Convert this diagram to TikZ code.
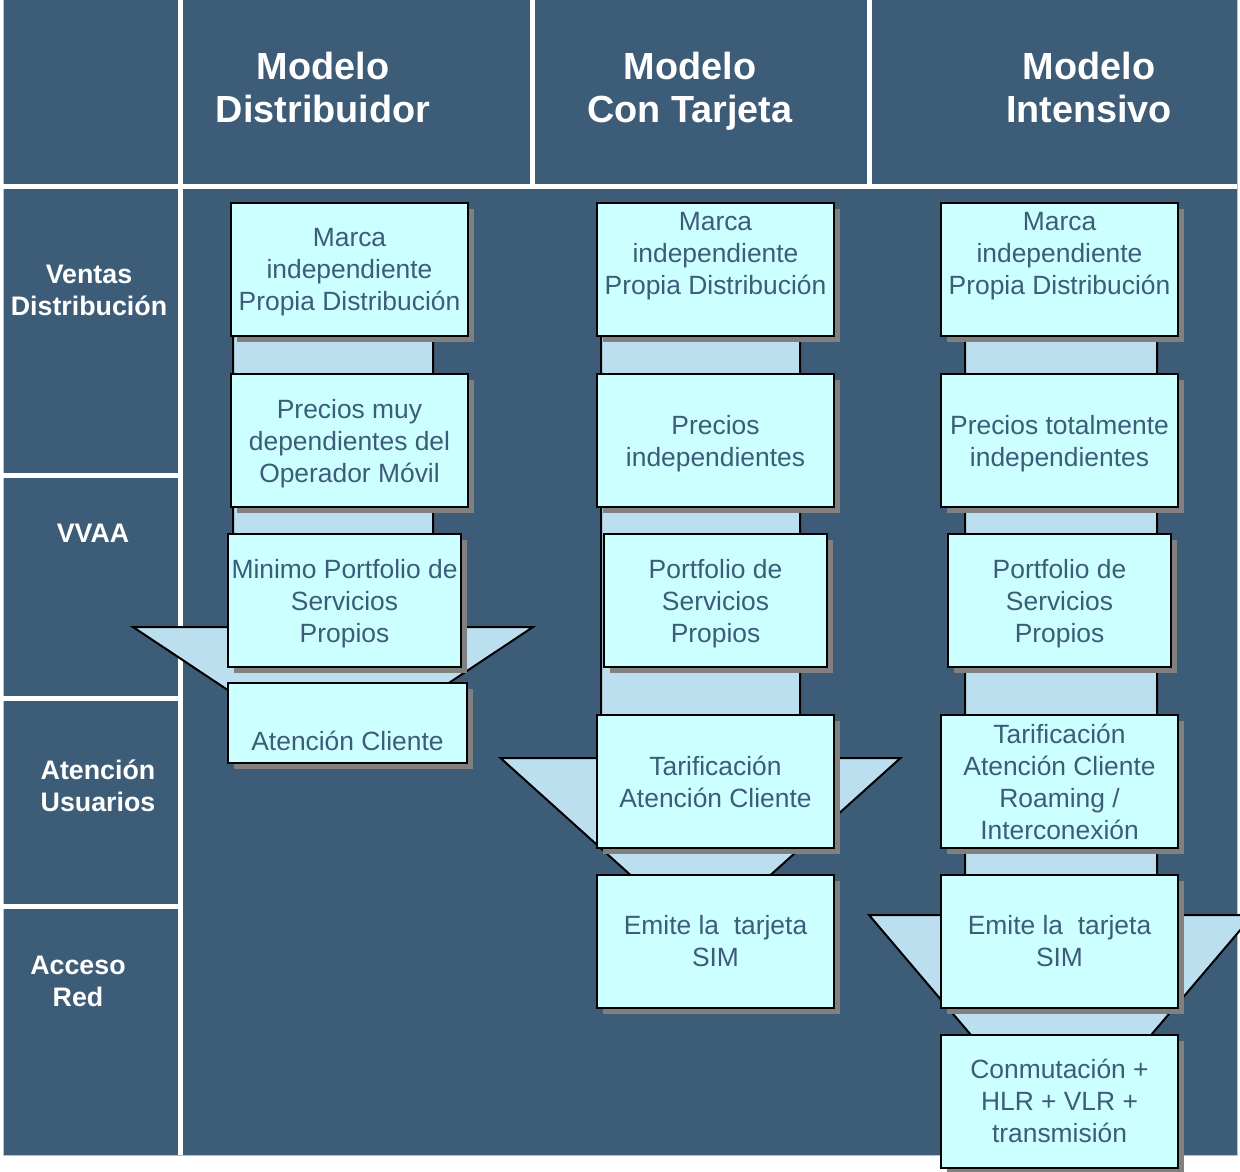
\documentclass[tikz,border=0pt]{standalone}
\usepackage{fontspec}
\setmainfont{Liberation Sans}
\usetikzlibrary{shadows}
\definecolor{panel}{HTML}{3D5C78}
\definecolor{boxfill}{HTML}{CCFFFF}
\definecolor{arrowfill}{HTML}{BBDFEF}

\begin{document}
\begin{tikzpicture}[x=0.5pt,y=-0.5pt,line join=miter,
  cell/.style={draw=black,line width=1pt,fill=boxfill,text=panel,align=center,inner sep=0pt,
    minimum width=118.5pt,minimum height=66.5pt,font=\fontsize{13.2}{16}\selectfont,text depth=0pt,
    drop shadow={shadow xshift=3pt,shadow yshift=-3pt,fill=gray,opacity=1}},
  arrowbody/.style={draw=black,line width=1pt,fill=arrowfill},
  head/.style={text=white,align=center,font=\bfseries\fontsize{18.9}{21.5}\selectfont},
  rowlabel/.style={text=white,align=center,font=\bfseries\fontsize{13.4}{16}\selectfont},
  sep/.style={white,line width=2.5pt}]
\useasboundingbox (0,0) rectangle (1240,1171);
% fondo y rejilla
\fill[white] (0,0) rectangle (1240,1171);
\draw[fill=panel,draw=gray!50,line width=0.5pt] (3,0) rectangle (1237,1155);
\draw[sep] (180.5,0) -- (180.5,1155);\draw[sep] (3,186.5) -- (1237,186.5);
\draw[sep] (532,0) -- (532,184);\draw[sep] (869,0) -- (869,184);
\foreach \yy in {475,698,906} \draw[sep] (3,\yy) -- (178,\yy);
% cabeceras
\node[head] (hdist) at (323,87.5) {Modelo\\Distribuidor};
\node[head] (htarj) at (690,91.5) {Modelo\\Con Tarjeta};
\node[head] (hint) at (1089,87.5) {Modelo\\Intensivo};
\node[rowlabel] (lventas) at (89,290) {Ventas\\Distribución};
\node[rowlabel] (lvvaa) at (93,533) {VVAA};
\node[rowlabel] (laten) at (98,786) {Atención\\Usuarios};
\node[rowlabel] (lacceso) at (78,981) {Acceso\\Red};
% flechas de cada modelo
\foreach \cx/\sh/\hh/\hy/\ty in {333/100/200/627/760,700.5/99.5/200/758/938,1061/96/192/915/1141}
  \draw[arrowbody] ({\cx-\sh},336) -- ({\cx-\sh},\hy) -- ({\cx-\hh},\hy) -- (\cx,\ty) -- ({\cx+\hh},\hy) -- ({\cx+\sh},\hy) -- ({\cx+\sh},336) -- cycle;
% Modelo Distribuidor
\node[cell] (d1) at (349.5,269.5) {Marca\\independiente\\Propia Distribución};
\node[cell] (d2) at (349.5,440.5) {Precios muy\\dependientes del\\Operador Móvil};
\node[cell,minimum width=116.5pt] (d3) at (344.5,600.5) {Minimo Portfolio de\\Servicios\\Propios};
\node[cell,minimum width=119.5pt,minimum height=40pt] (d4) at (347.5,723) {\strut\\Atención Cliente};
% Modelo Con Tarjeta
\node[cell] (t1) at (715.5,269.5) {Marca\\independiente\\Propia Distribución\\\strut};
\node[cell] (t2) at (715.5,440.5) {Precios\\independientes};
\node[cell,minimum width=111.5pt] (t3) at (715.5,600.5) {Portfolio de\\Servicios\\Propios};
\node[cell] (t4) at (715.5,781.5) {Tarificación\\Atención Cliente};
\node[cell] (t5) at (715.5,941) {Emite la\ \ tarjeta\\SIM};
% Modelo Intensivo
\node[cell] (i1) at (1059.5,269.5) {Marca\\independiente\\Propia Distribución\\\strut};
\node[cell] (i2) at (1059.5,440.5) {Precios totalmente\\independientes};
\node[cell,minimum width=111.5pt] (i3) at (1059.5,600.5) {Portfolio de\\Servicios\\Propios};
\node[cell] (i4) at (1059.5,781.5) {Tarificación\\Atención Cliente\\Roaming /\\Interconexión};
\node[cell] (i5) at (1059.5,941) {Emite la\ \ tarjeta\\SIM};
\node[cell] (i6) at (1059.5,1101) {Conmutación +\\HLR + VLR +\\transmisión};
\end{tikzpicture}
\end{document}
